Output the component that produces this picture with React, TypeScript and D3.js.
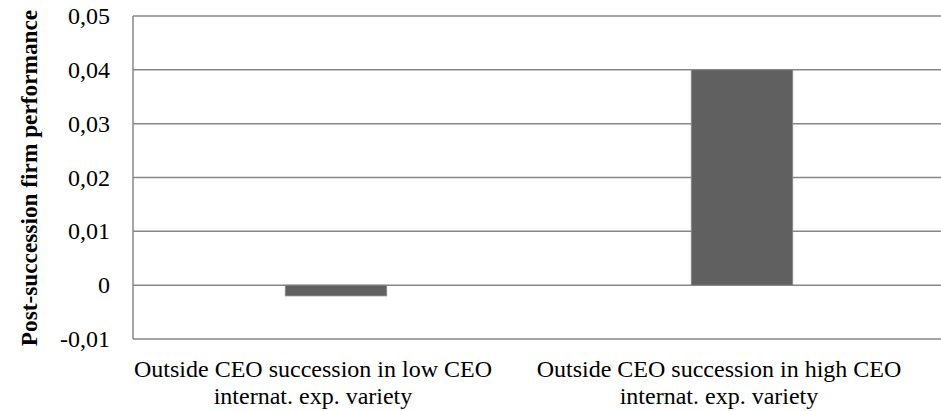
import React from "react";
import * as d3 from "d3";

const categories = [
  ["Outside CEO succession in low CEO", "internat. exp. variety"],
  ["Outside CEO succession in high CEO", "internat. exp. variety"],
];
const values = [-0.002, 0.04];
const yTicks = [-0.01, 0, 0.01, 0.02, 0.03, 0.04, 0.05];
const yTitle = "Post-succession firm performance";

const W = 941;
const H = 411;
const plot = { left: 133, right: 945, top: 16, bottom: 339 };
const labelShift = -23;

export default function App() {
  const x = d3
    .scaleBand<number>()
    .domain(d3.range(categories.length))
    .range([plot.left, plot.right])
    .paddingInner(0.75)
    .paddingOuter(0.375);
  const y = d3.scaleLinear().domain([-0.01, 0.05]).range([plot.bottom, plot.top]);
  const fmt = (v: number) => (v === 0 ? "0" : d3.format(".2f")(v).replace(".", ",").replace("\u2212", "-"));
  const font = "'Liberation Serif', 'Times New Roman', serif";

  return (
    <svg width={W} height={H} style={{ position: "absolute", left: 0, top: 0, background: "#fff" }}>
      {yTicks.map((t) => (
        <g key={t}>
          <line x1={plot.left} x2={W} y1={y(t)} y2={y(t)} stroke="#878787" strokeWidth={1.5} />
          <text x={110} y={y(t) + 8} textAnchor="end" fontFamily={font} fontSize={24} fill="#000">
            {fmt(t)}
          </text>
        </g>
      ))}
      <line x1={plot.left} x2={plot.left} y1={y(0.05)} y2={y(-0.01)} stroke="#878787" strokeWidth={1.5} />
      {values.map((v, i) => (
        <rect
          key={i}
          x={x(i)}
          width={x.bandwidth()}
          y={Math.min(y(v), y(0))}
          height={Math.abs(y(v) - y(0))}
          fill="#606060"
          stroke="#8a8a8a"
          strokeWidth={0.8}
        />
      ))}
      {categories.map((lines, i) => {
        const cx = (x(i) as number) + x.bandwidth() / 2 + labelShift;
        return (
          <text key={i} textAnchor="middle" fontFamily={font} fontSize={24} fill="#000">
            {lines.map((l, j) => (
              <tspan key={j} x={cx} y={377 + j * 27}>
                {l}
              </tspan>
            ))}
          </text>
        );
      })}
      <text
        transform={`translate(37, 178) rotate(-90)`}
        textAnchor="middle"
        fontFamily={font}
        fontSize={23.3}
        fontWeight="bold"
        fill="#000"
      >
        {yTitle}
      </text>
    </svg>
  );
}
